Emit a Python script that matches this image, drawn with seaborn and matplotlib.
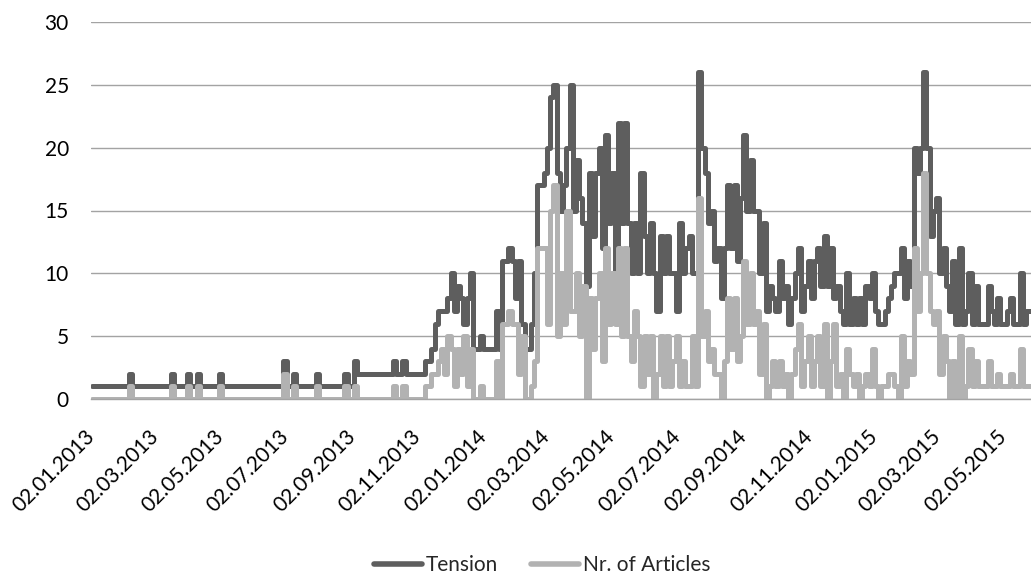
import pandas as pd
import matplotlib.pyplot as plt
import matplotlib.dates as mdates
from matplotlib.lines import Line2D
import seaborn as sns

# values, one sample every 3 days starting 02.01.2013
tension = [
    1, 1, 1, 1, 1, 1, 1, 1, 1, 1, 1, 1, 2, 1, 1, 1, 1, 1, 1, 1,
    1, 1, 1, 1, 1, 2, 1, 1, 1, 1, 2, 1, 1, 2, 1, 1, 1, 1, 1, 1,
    2, 1, 1, 1, 1, 1, 1, 1, 1, 1, 1, 1, 1, 1, 1, 1, 1, 1, 1, 1,
    3, 1, 1, 2, 1, 1, 1, 1, 1, 1, 2, 1, 1, 1, 1, 1, 1, 1, 1, 2,
    1, 1, 3, 2, 2, 2, 2, 2, 2, 2, 2, 2, 2, 2, 3, 2, 2, 3, 2, 2,
    2, 2, 2, 2, 3, 3, 4,
    6, 7, 7, 7, 8, 10, 7, 9, 8, 6, 8, 10, 4, 4, 5, 4, 4, 4, 4, 7,
    4, 11, 11, 12, 11, 8, 11, 6, 4, 4, 6, 10, 17, 17, 18, 20, 24, 25, 18, 15,
    17, 20, 25, 15, 19, 16, 14, 9, 18, 13, 18, 20, 12, 21, 14, 18, 10, 22, 14, 22,
    14, 10, 14, 10, 18, 13, 10, 14, 10, 7, 13, 10, 13, 10, 10, 7, 14, 10, 12, 13,
    10, 10, 26, 20, 18, 14, 15, 11, 12, 8, 12, 17, 12, 17, 11, 16, 21, 15, 19, 15,
    15, 10, 14, 7, 9, 8, 7, 11, 8, 9, 6, 8, 10, 12, 7, 9, 11, 8, 11, 12,
    9, 13, 9, 12, 8, 9, 7, 6, 10, 6, 8, 6, 8, 6, 9, 8, 10, 7, 6, 6,
    7, 8, 9, 10, 10, 12, 8, 11, 9, 20, 18, 20, 26, 20, 13, 15, 16, 10, 12, 9,
    7, 11, 6, 12, 6, 7, 10, 6, 9, 6, 6, 6, 9, 7, 6, 8, 6, 6, 7, 8,
    6, 6, 10, 6, 7, 7,
]

articles = [
    0, 0, 0, 0, 0, 0, 0, 0, 0, 0, 0, 0, 1, 0, 0, 0, 0, 0, 0, 0,
    0, 0, 0, 0, 0, 1, 0, 0, 0, 0, 1, 0, 0, 1, 0, 0, 0, 0, 0, 0,
    1, 0, 0, 0, 0, 0, 0, 0, 0, 0, 0, 0, 0, 0, 0, 0, 0, 0, 0, 0,
    2, 0, 0, 1, 0, 0, 0, 0, 0, 0, 1, 0, 0, 0, 0, 0, 0, 0, 0, 1,
    0, 0, 1, 0, 0, 0, 0, 0, 0, 0, 0, 0, 0, 0, 1, 0, 0, 1, 0, 0,
    0, 0, 0, 0, 1, 1, 2,
    2, 3, 4, 2, 5, 4, 1, 4, 2, 5, 1, 4, 0, 0, 1, 0, 0, 0, 0, 3,
    0, 6, 6, 7, 6, 6, 2, 5, 0, 0, 1, 3, 12, 12, 12, 6, 15, 17, 5, 10,
    6, 15, 7, 7, 10, 5, 9, 0, 8, 4, 8, 10, 3, 12, 6, 10, 6, 12, 5, 12,
    5, 3, 7, 5, 1, 5, 2, 5, 0, 2, 5, 1, 5, 1, 3, 5, 1, 3, 1, 1,
    5, 1, 16, 5, 7, 3, 4, 2, 2, 0, 3, 8, 4, 8, 3, 5, 11, 6, 10, 6,
    7, 2, 6, 0, 1, 3, 1, 3, 1, 2, 0, 2, 4, 6, 1, 3, 5, 1, 3, 5,
    1, 6, 0, 3, 6, 1, 2, 0, 4, 2, 1, 2, 0, 1, 2, 1, 4, 1, 0, 1,
    1, 2, 2, 1, 0, 5, 1, 3, 2, 12, 7, 10, 18, 10, 7, 6, 7, 2, 5, 3,
    0, 3, 0, 5, 0, 1, 4, 1, 3, 1, 1, 1, 3, 1, 1, 2, 1, 1, 1, 2,
    1, 1, 4, 1, 1, 1,
]

series_names = ['Tension', 'Nr. of Articles']
series_colors = ['#5e5e5e', '#b2b2b2']
tick_dates = pd.date_range('2013-01-02', '2015-05-02', freq=pd.DateOffset(months=2))


def main():
    sns.set_theme(style='white')
    plt.rcParams['font.family'] = ['Lato', 'DejaVu Sans']

    dates = pd.date_range('2013-01-02', periods=len(tension), freq='3D')
    df = pd.DataFrame({
        'date': list(dates) * 2,
        'value': tension + articles,
        'series': [series_names[0]] * len(tension) + [series_names[1]] * len(articles),
    })

    fig = plt.figure(figsize=(10.31, 5.77), dpi=100)
    ax = fig.add_axes([91 / 1031, 1 - 399 / 577, 940 / 1031, 377 / 577])

    # steps-mid mimics the daily jumps of the original series
    sns.lineplot(data=df, x='date', y='value', hue='series', hue_order=series_names,
                 palette=series_colors, linewidth=3.6, legend=False, ax=ax,
                 drawstyle='steps-mid')
    for line in ax.lines:
        line.set_solid_joinstyle('round')
        line.set_solid_capstyle('round')

    ax.set_ylim(0, 30)
    ax.set_yticks(range(0, 31, 5))
    ax.set_xlim(pd.Timestamp('2013-01-01'), pd.Timestamp('2015-05-28'))
    ax.set_xticks(tick_dates)
    ax.xaxis.set_major_formatter(mdates.DateFormatter('%d.%m.%Y'))
    ax.set_xlabel('')
    ax.set_ylabel('')

    ax.grid(axis='y', color='#a3a3a3', linewidth=1)
    ax.set_axisbelow(True)
    for side in ['top', 'right', 'left']:
        ax.spines[side].set_visible(False)
    ax.spines['bottom'].set_color('#a3a3a3')
    ax.spines['bottom'].set_linewidth(1)

    ax.tick_params(axis='y', length=0, pad=16, labelsize=15, labelcolor='black')
    ax.tick_params(axis='x', length=0, pad=25, labelsize=15, labelcolor='black')
    for lbl in ax.get_xticklabels():
        lbl.set_rotation(45)
        lbl.set_ha('right')
        lbl.set_va('center')
        lbl.set_rotation_mode('anchor')

    handles = [Line2D([0], [0], color=c, linewidth=4) for c in series_colors]
    fig.legend(handles, series_names, loc='center', bbox_to_anchor=(0.526, 0.021),
               ncol=2, frameon=False, fontsize=15, handlelength=2.3,
               handletextpad=0.2, columnspacing=1.6)

    fig.savefig('out.png', dpi=100)
    plt.close(fig)


if __name__ == '__main__':
    main()
